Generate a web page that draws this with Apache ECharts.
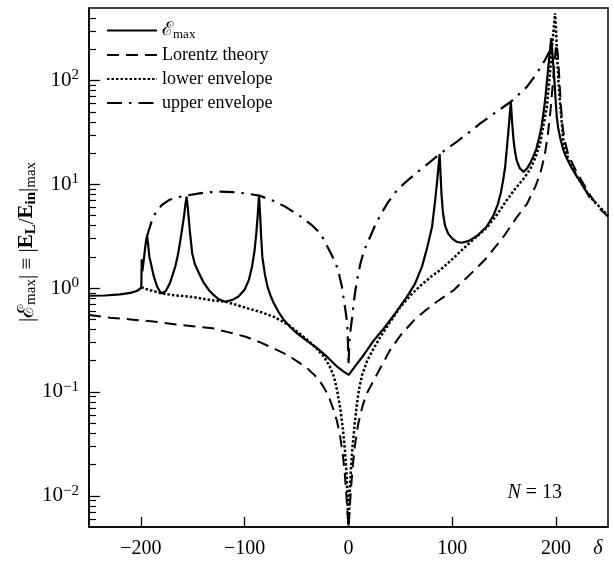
<!DOCTYPE html>
<html>
<head>
<meta charset="utf-8">
<script src="https://cdn.jsdelivr.net/npm/echarts@6.0.0/dist/echarts.min.js"></script>
<style>
  html, body { margin: 0; padding: 0; background: #fff; }
  #main { width: 614px; height: 562px; }
</style>
</head>
<body>
<div id="main"></div>
<script>
// data: [delta, value]
var emax = [
  [-250, 0.845], [-235, 0.85], [-220, 0.87], [-210, 0.9], [-204, 0.94], [-201, 0.98],
  [-199.6, 1.03], [-199.2, 1.9], [-198.6, 1.45], [-197.6, 1.75], [-196.2, 2.3], [-195, 2.9],
  [-194, 3.2], [-193, 2.6], [-191.8, 2.0], [-190.7, 1.8], [-189, 1.5], [-187.5, 1.29],
  [-184.3, 1.03], [-182, 0.94], [-180, 0.89], [-176, 0.94], [-172, 1.12], [-170, 1.29],
  [-167, 1.6], [-165, 1.95], [-163.5, 2.33], [-161.5, 3.1], [-160, 3.9], [-158.5, 4.9],
  [-157.2, 6.3], [-156, 7.6], [-155, 6.2], [-154, 4.8], [-152.8, 3.5], [-150.6, 2.17],
  [-148, 1.7], [-144, 1.39], [-140, 1.15], [-134.6, 0.96], [-130, 0.86], [-125, 0.78],
  [-118.6, 0.74], [-112, 0.77], [-106, 0.83], [-100, 0.97], [-96, 1.2], [-93, 1.6],
  [-90.5, 2.3], [-88.8, 3.4], [-87.5, 5], [-86.2, 7.8], [-85.2, 5.2], [-84.2, 3.2],
  [-83, 2.0], [-80.5, 1.35], [-78, 1.03], [-75, 0.84], [-71.8, 0.71], [-67, 0.58],
  [-62, 0.49], [-56, 0.42], [-49.4, 0.367], [-40, 0.31], [-30, 0.263], [-20, 0.215],
  [-10.9, 0.175], [-5, 0.158], [0.3, 0.146], [7, 0.18], [14.7, 0.227], [24, 0.31],
  [34, 0.41], [45, 0.57], [56.4, 0.83], [64, 1.1], [70.8, 1.61], [76, 2.5], [80.5, 3.9],
  [83.5, 7], [85.5, 11], [87.8, 19.6], [88.6, 13], [89.6, 8], [91, 5.3], [93, 4.0],
  [96, 3.35], [100, 3.0], [104, 2.8], [109, 2.74], [116, 2.85], [124, 3.2], [133, 3.9],
  [140, 5.1], [144, 6.5], [147, 8.5], [149, 11], [151, 15], [153, 25], [154.8, 40],
  [156.4, 62.5], [157.6, 40], [159, 26.7], [160.5, 20.5], [162, 17], [165, 14.3],
  [168.6, 13.2], [172, 14.2], [175, 16], [178, 18.5], [181, 22], [184, 29], [186, 35.9],
  [188, 50], [189.8, 70], [191, 94], [192.5, 135], [194, 190], [195.3, 257], [196.3, 190],
  [197.4, 136], [198.5, 95], [199.5, 66], [200.6, 45], [202, 35], [204, 28], [207, 21.4],
  [210, 18], [214, 15], [220, 11.9], [226, 9.6], [232.7, 7.4]
];

var lorentz = [
  [-250, 0.55], [-230, 0.52], [-210, 0.5], [-186, 0.475], [-160, 0.44], [-131, 0.41],
  [-115, 0.375], [-99, 0.34], [-85, 0.3], [-72, 0.263], [-60, 0.23], [-49, 0.196],
  [-40, 0.17], [-33, 0.146], [-28, 0.128], [-24, 0.112], [-19, 0.09], [-15, 0.07],
  [-11, 0.052], [-8, 0.037], [-5.5, 0.025], [-3.5, 0.016], [-2, 0.01], [-1, 0.007],
  [0, 0.005], [1, 0.007], [2.2, 0.011], [4, 0.019], [6.5, 0.032], [9.5, 0.05], [13, 0.07],
  [17, 0.094], [24.4, 0.13], [32, 0.18], [40, 0.253], [50, 0.35], [63, 0.49], [75, 0.62],
  [85, 0.74], [101, 0.95], [117, 1.35], [133, 1.95], [150, 3.2], [162, 4.8], [172, 6.5],
  [180, 9.5], [185, 13], [189, 19], [192, 30], [194.5, 50], [196.5, 85], [198.3, 140],
  [199.6, 200], [200.6, 225], [201.8, 170], [203, 110], [204.5, 60], [206, 38], [208, 27],
  [212, 19], [220, 13], [233, 7.8], [242, 5.8], [250, 4.9]
];

var lowerEnv = [
  [-199.5, 1.02], [-195, 0.98], [-190, 0.95], [-185, 0.92], [-180, 0.89], [-170, 0.86],
  [-160, 0.84], [-150, 0.82], [-140, 0.79], [-130, 0.76], [-118.6, 0.74], [-110, 0.7],
  [-104, 0.67], [-95, 0.63], [-85, 0.59], [-72, 0.53], [-64, 0.48], [-56, 0.43],
  [-48, 0.37], [-40, 0.32], [-32, 0.27], [-23.7, 0.22], [-18, 0.175], [-14, 0.14],
  [-11, 0.104], [-8, 0.07], [-5.5, 0.045], [-3.5, 0.028], [-2, 0.017], [-1, 0.01],
  [-0.3, 0.0055], [0, 0.005], [0.4, 0.006], [1.2, 0.011], [2.3, 0.018], [3.8, 0.029],
  [5.8, 0.047], [8, 0.075], [10, 0.104], [13, 0.145], [18, 0.2], [24, 0.26], [30.8, 0.34],
  [40, 0.47], [50, 0.66], [60, 0.86], [69, 1.05], [80, 1.3], [88.5, 1.5], [100, 1.9],
  [111, 2.42], [122, 3.05], [133, 3.8], [143, 5.1], [152.6, 7.06], [160, 8.9],
  [168.6, 11.3], [175, 14], [180, 18], [184.6, 24.8], [188, 38], [191, 55], [193.5, 100],
  [195.8, 197], [197.5, 300], [199, 445], [200, 300], [201, 170], [202.5, 90], [204.5, 50],
  [207, 26], [212, 17], [220, 12], [233, 7.5], [250, 5]
];

var upperEnv = [
  [-194, 3.2], [-190, 4.3], [-185.9, 5.3], [-180, 6.3], [-173, 7.06], [-165, 7.5],
  [-156, 7.8], [-145, 8.15], [-134.6, 8.4], [-123, 8.5], [-112, 8.4], [-100, 8.2],
  [-86, 7.8], [-72, 6.9], [-61, 6.1], [-46, 4.9], [-36, 4.1], [-27, 3.37], [-17, 2.17],
  [-12, 1.7], [-9.3, 1.39], [-6.5, 1.05], [-4.5, 0.77], [-2.8, 0.6], [-1.3, 0.46],
  [-0.5, 0.3], [0, 0.18], [0.8, 0.3], [2, 0.4], [3.5, 0.52], [5, 0.72], [6.7, 0.96],
  [9, 1.3], [11.5, 1.73], [15, 2.3], [19.5, 2.91], [25, 3.9], [30.8, 5.07], [38, 6.7],
  [46.8, 8.8], [55, 10.5], [65, 12.8], [78.8, 16.5], [87.8, 19.6], [104.5, 25.8],
  [115, 31], [127, 38.7], [140, 48], [156.4, 62.5], [165, 75], [171.8, 87], [180, 112],
  [189.4, 158], [193.5, 190]
];

var seriesNames = ['Emax', 'Lorentz theory', 'lower envelope', 'upper envelope'];
var xTicks = [-200, -100, 0, 100, 200];
var yTickExps = [-2, -1, 0, 1, 2];
var yMin = 0.005, yMax = 500;

var FONT = '"Liberation Serif", "DejaVu Serif", serif';
var myChart = echarts.init(document.getElementById('main'));

// minor ticks 2..9 x 10^k, in log units for the helper axis
var minorTicks = [];
for (var k = -3; k <= 2; k++) {
    for (var m = 2; m <= 9; m++) {
        var v = m * Math.pow(10, k);
        if (v > yMin && v < yMax) minorTicks.push(Math.log10(v));
    }
}

function minusSign(n) {
    return n < 0 ? '\u2212' + (-n) : '' + n;
}

option = {
    animation: false,
    backgroundColor: '#fff',
    grid: {
        left: 89, right: 6, top: 8, bottom: 35,
        show: true, borderColor: '#000', borderWidth: 1.5
    },
    legend: {
        data: seriesNames,
        orient: 'vertical',
        left: 101,
        top: 15,
        itemWidth: 50,
        itemHeight: 14,
        itemGap: 4,
        itemStyle: { opacity: 0 },
        textStyle: {
            fontSize: 18, fontFamily: FONT, color: '#000', lineHeight: 20,
            rich: {
                e: { fontSize: 19, fontFamily: FONT, color: '#000', lineHeight: 20 },
                s: { fontSize: 13, fontFamily: FONT, color: '#000', lineHeight: 20, padding: [8, 0, 0, 0] }
            }
        },
        formatter: function (name) {
            if (name === 'Emax') return '{e|\u2130}{s|max}';
            return name;
        }
    },
    xAxis: {
        type: 'value',
        min: -250,
        max: 250,
        axisLine: { onZero: false, lineStyle: { color: '#000', width: 1.5 } },
        axisTick: { inside: true, length: 10, customValues: xTicks, lineStyle: { color: '#000', width: 1.3 } },
        axisLabel: {
            customValues: xTicks,
            formatter: function (v) { return minusSign(v); },
            color: '#000', fontSize: 20, fontFamily: FONT, margin: 12
        },
        splitLine: { show: false }
    },
    yAxis: [
        {
            type: 'log',
            logBase: 10,
            min: yMin,
            max: yMax,
            position: 'left',
            axisLine: { show: true, onZero: false, lineStyle: { color: '#000', width: 1.5 } },
            axisTick: { show: false },
            axisLabel: { show: false },
            splitLine: { show: false }
        },
        {
            type: 'value',
            min: Math.log10(yMin),
            max: Math.log10(yMax),
            position: 'left',
            offset: 0,
            axisLine: { show: false, onZero: false },
            axisTick: { show: true, inside: true, length: 11, customValues: yTickExps, lineStyle: { color: '#000', width: 1.3 } },
            axisLabel: {
                customValues: yTickExps,
                formatter: function (v) { return '10{sup|' + minusSign(Math.round(v)) + '}'; },
                color: '#000', fontSize: 21, fontFamily: FONT, margin: 10,
                rich: { sup: { fontSize: 15, fontFamily: FONT, color: '#000', padding: [0, 0, 10, 0] } }
            },
            splitLine: { show: false }
        },
        {
            type: 'value',
            min: Math.log10(yMin),
            max: Math.log10(yMax),
            position: 'left',
            offset: 0,
            axisLine: { show: false, onZero: false },
            axisTick: { show: true, inside: true, length: 7, customValues: minorTicks, lineStyle: { color: '#000', width: 1.2 } },
            axisLabel: { show: false },
            splitLine: { show: false }
        }
    ],
    graphic: [
        {
            type: 'text',
            x: 27, y: 242,
            rotation: Math.PI / 2,
            style: {
                text: '|{e|\u2130}{s|max}| \u2261 |{b|E}{bs|L}/{b|E}{bs|in}|{s|max}',
                fontSize: 21, fontFamily: FONT, fill: '#000',
                align: 'center', verticalAlign: 'middle',
                rich: {
                    e: { fontSize: 22, fontFamily: FONT, color: '#000' },
                    s: { fontSize: 15, fontFamily: FONT, color: '#000', padding: [9, 0, 0, 0] },
                    b: { fontSize: 21, fontFamily: FONT, fontWeight: 'bold', color: '#000' },
                    bs: { fontSize: 15, fontFamily: FONT, fontWeight: 'bold', color: '#000', padding: [9, 0, 0, 0] }
                }
            }
        },
        {
            type: 'text',
            x: 562, y: 493,
            style: {
                text: '{i|N} = 13',
                fontSize: 20, fontFamily: FONT, fill: '#000',
                align: 'right', verticalAlign: 'middle',
                rich: { i: { fontSize: 20, fontFamily: FONT, fontStyle: 'italic', color: '#000' } }
            }
        },
        {
            type: 'text',
            x: 598, y: 549,
            style: {
                text: '\u03b4',
                fontSize: 20, fontFamily: FONT, fontStyle: 'italic', fill: '#000',
                align: 'center', verticalAlign: 'middle'
            }
        }
    ],
    series: [
        {
            name: 'Emax', type: 'line', symbol: 'none', data: emax,
            lineStyle: { color: '#000', width: 2.2 },
            itemStyle: { color: '#000' }
        },
        {
            name: 'Lorentz theory', type: 'line', symbol: 'none', data: lorentz,
            lineStyle: { color: '#000', width: 2, type: [12, 7] },
            itemStyle: { color: '#000' }
        },
        {
            name: 'lower envelope', type: 'line', symbol: 'none', data: lowerEnv,
            lineStyle: { color: '#000', width: 2.5, type: [2.5, 2] },
            itemStyle: { color: '#000' }
        },
        {
            name: 'upper envelope', type: 'line', symbol: 'none', data: upperEnv,
            lineStyle: { color: '#000', width: 2.2, type: [15, 7, 2.5, 7] },
            itemStyle: { color: '#000' }
        }
    ]
};

myChart.setOption(option);
</script>
</body>
</html>
